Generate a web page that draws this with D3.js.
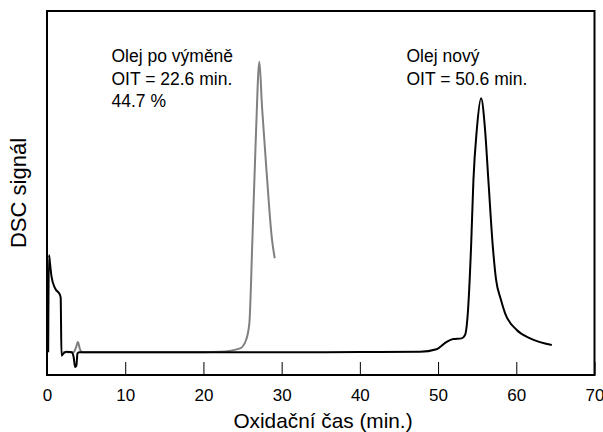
<!DOCTYPE html>
<html lang="cs">
  <head>
    <meta charset="UTF-8" />
    <title>DSC – oxidační čas</title>
    <style>
      body { margin: 0; background: #fff; }
      text { font-family: "Liberation Sans", Arial, sans-serif; fill: #000; }
      .line { fill: none; stroke-width: 2; stroke-linejoin: round; }
    </style>
  </head>
  <body>
    <svg id="svg" width="603" height="432"></svg>
    <script src="https://cdn.jsdelivr.net/npm/d3@7"></script>
    <script>
      // Olej nový (black)
      const newTime = [0.15, 0.25, 0.38, 0.58, 1.02, 1.66, 1.75, 1.85, 2.1, 2.5, 3.15, 3.4, 3.6, 3.75, 3.9, 4.1,
        10, 20, 30, 40, 47.7, 49.8, 51.1, 51.95, 53.0, 53.45, 53.8, 54.22, 54.52, 54.95, 55.5,
        56.01, 56.43, 57.0, 57.42, 58.0, 58.57, 60.06, 61.77, 64.54];
      const newSignal = [0, 4.27, 3.92, 3.32, 2.82, 2.52, 2.4, -0.15, -0.05, 0.02, 0.0, -0.2, -0.65, -0.6, -0.05, 0.0,
        0.0, 0.0, 0.0, 0.01, 0.02, 0.13, 0.46, 0.58, 0.61, 0.76, 1.71, 4.64, 7.57, 9.77, 11.16,
        9.77, 7.57, 4.64, 3.18, 2.35, 1.71, 0.98, 0.61, 0.32];

      // Olej po výměně (gray)
      const usedTime = [2.0, 3.4, 3.7, 3.95, 4.2, 4.5, 10, 20, 22.1, 24.68, 25.45, 25.87, 26.26, 26.69, 27.15,
        27.49, 28.09, 28.77, 29.12];
      const usedSignal = [0, 0, 0.2, 0.45, 0.15, 0, 0, 0, 0.02, 0.17, 0.54, 1.27, 4.94, 9.33, 12.77,
        10.79, 7.86, 4.94, 4.13];

      const xTicks = [0, 10, 20, 30, 40, 50, 60, 70];

      const svg = d3.select("#svg");
      const plotLeft = 47, plotRight = 594.5, plotTop = 11, plotBottom = 375;

      const x = d3.scaleLinear().domain([0, 70]).range([plotLeft, plotRight]);
      const y = d3.scaleLinear().domain([-1, 15]).range([plotBottom, plotTop]);

      const line = d3.line()
        .x((d) => x(d[0]))
        .y((d) => y(d[1]))
        .curve(d3.curveMonotoneX);

      // curves: gray under black
      svg.append("path")
        .attr("class", "line")
        .attr("stroke", "#808080")
        .attr("d", line(usedTime.map((t, i) => [t, usedSignal[i]])));

      svg.append("path")
        .attr("class", "line")
        .attr("stroke", "#000")
        .attr("d", line(newTime.map((t, i) => [t, newSignal[i]])));

      // x axis, ticks pointing inward
      const xAxis = svg.append("g")
        .attr("transform", `translate(0,${plotBottom})`)
        .call(d3.axisBottom(x).tickValues(xTicks).tickSizeInner(-13).tickSizeOuter(0).tickPadding(14));
      xAxis.select(".domain").remove();
      xAxis.selectAll("line").attr("stroke", "#000").attr("stroke-width", 1);
      xAxis.selectAll("text").style("font-size", "17px");
      xAxis.attr("font-family", null);

      // frame
      svg.append("rect")
        .attr("x", plotLeft)
        .attr("y", plotTop)
        .attr("width", plotRight - plotLeft)
        .attr("height", plotBottom - plotTop)
        .attr("fill", "none")
        .attr("stroke", "#000")
        .attr("stroke-width", 2);

      // axis titles
      svg.append("text")
        .attr("x", 323)
        .attr("y", 428)
        .attr("text-anchor", "middle")
        .style("font-size", "20.8px")
        .text("Oxidační čas (min.)");

      svg.append("text")
        .attr("transform", "translate(26,193) rotate(-90)")
        .attr("text-anchor", "middle")
        .style("font-size", "22px")
        .text("DSC signál");

      // annotations
      const notes = [
        { x: 111.5, lines: ["Olej po výměně", "OIT = 22.6 min.", "44.7 %"] },
        { x: 406.5, lines: ["Olej nový", "OIT = 50.6 min."] }
      ];
      notes.forEach((n) => {
        n.lines.forEach((s, i) => {
          svg.append("text")
            .attr("x", n.x)
            .attr("y", 62 + i * 22.5)
            .style("font-size", "17.5px")
            .text(s);
        });
      });
    </script>
  </body>
</html>
